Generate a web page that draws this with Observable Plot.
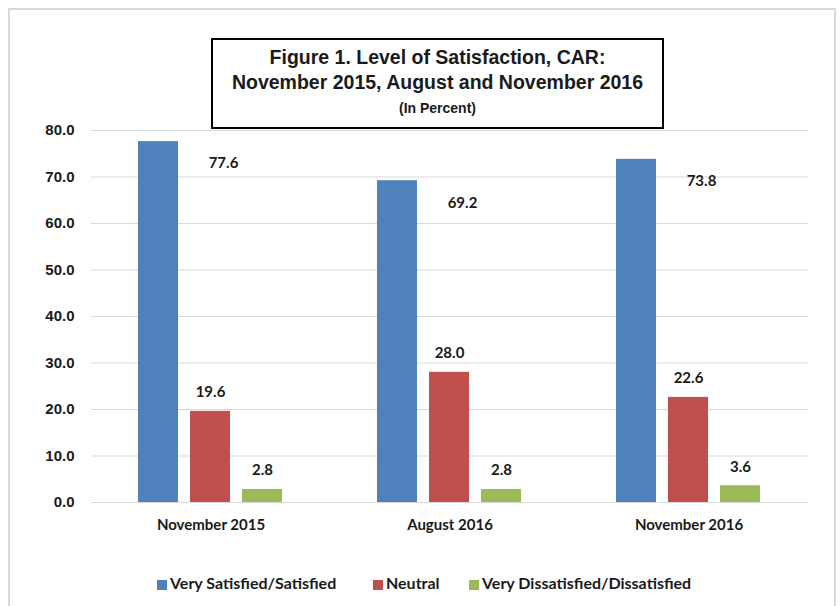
<!DOCTYPE html>
<html>
<head>
<meta charset="utf-8">
<script src="https://cdn.jsdelivr.net/npm/d3@7"></script>
<script src="https://cdn.jsdelivr.net/npm/@observablehq/plot@0.6"></script>
<style>
  html, body { margin: 0; padding: 0; background: #fff; }
  #wrap { position: relative; width: 840px; height: 606px; overflow: hidden; background: #fff; }
  #frame { position: absolute; left: 8px; top: 8px; width: 828px; height: 606px; border: 2px solid #d9d9d9; box-sizing: border-box; }
  #chart { position: absolute; left: 0; top: 0; }
  #titlebox { position: absolute; left: 211px; top: 38px; width: 453px; height: 91px; border: 2.5px solid #000; box-sizing: border-box; background: #fff; text-align: center; font-family: "Liberation Sans", Arial, sans-serif; font-weight: bold; color: #1a1a1a; }
  #titlebox .t { font-size: 19.5px; line-height: 25px; }
  #titlebox .t1 { margin-top: 4.5px; }
  #titlebox .s { font-size: 14px; line-height: 16px; margin-top: 5px; }
  #legend { position: absolute; left: 0; top: 573px; width: 840px; font-family: Lato, sans-serif; font-size: 16px; font-weight: bold; color: #1a1a1a; }
  .li { position: absolute; top: 0; white-space: nowrap; line-height: 20px; }
  .sw { display: inline-block; width: 10px; height: 10px; margin-right: 3px; vertical-align: -1px; }
</style>
</head>
<body>
<div id="wrap">
  <div id="frame"></div>
  <div id="chart"></div>
  <div id="titlebox">
    <div class="t t1">Figure 1. Level of Satisfaction, CAR:</div>
    <div class="t">November 2015, August and November 2016</div>
    <div class="s">(In Percent)</div>
  </div>
  <div id="legend"></div>
</div>
<script>
const periods = ["November 2015", "August 2016", "November 2016"];
const seriesNames = ["Very Satisfied/Satisfied", "Neutral", "Very Dissatisfied/Dissatisfied"];
const satisfied = [77.6, 69.2, 73.8];
const neutral = [19.6, 28.0, 22.6];
const dissatisfied = [2.8, 2.8, 3.6];
const yTicks = [0, 10, 20, 30, 40, 50, 60, 70, 80];
const colors = ["#4F81BD", "#C0504D", "#9BBB59"];

const seriesValues = [satisfied, neutral, dissatisfied];
const rows = [];
periods.forEach((p, i) => {
  seriesNames.forEach((s, j) => rows.push({period: p, series: s, value: seriesValues[j][i]}));
});
const topRows = rows.filter(d => d.series === seriesNames[0]);
const otherRows = rows.filter(d => d.series !== seriesNames[0]);

const plot = Plot.plot({
  width: 840,
  height: 540,
  marginLeft: 91,
  marginRight: 32,
  marginTop: 130,
  marginBottom: 38,
  style: {background: "transparent", overflow: "visible"},
  fx: {domain: periods, padding: 0, label: null},
  x: {domain: seriesNames, paddingInner: 0.226, paddingOuter: 0.87, axis: null},
  y: {domain: [0, 80], axis: null},
  color: {domain: seriesNames, range: colors},
  marks: [
    Plot.ruleY(yTicks, {stroke: "#d9d9d9", strokeWidth: 1.2}),
    Plot.axisY({ticks: yTicks, tickFormat: d => d.toFixed(1), tickSize: 0, tickPadding: 17, label: null,
      fontSize: 15, fontWeight: "bold", fontFamily: "Liberation Sans, Arial, sans-serif", fill: "#1a1a1a"}),
    Plot.axisFx({anchor: "bottom", tickSize: 0, tickPadding: 17, label: null, fontSize: 15, fontWeight: "bold",
      fontFamily: "Lato, sans-serif", fill: "#1a1a1a"}),
    Plot.barY(rows, {fx: "period", x: "series", y: "value", fill: "series"}),
    Plot.text(otherRows, {fx: "period", x: "series", y: "value", text: d => d.value.toFixed(1),
      dy: -19, fontSize: 15, fontWeight: "bold", fontFamily: "Lato, sans-serif", fill: "#1a1a1a"}),
    Plot.text(topRows, {fx: "period", x: "series", y: "value", text: d => d.value.toFixed(1),
      dx: 65, dy: 22, fontSize: 15, fontWeight: "bold", fontFamily: "Lato, sans-serif", fill: "#1a1a1a"})
  ]
});
document.getElementById("chart").appendChild(plot);

const legend = document.getElementById("legend");
const legendX = [157, 373, 469];
seriesNames.forEach((s, i) => {
  const item = document.createElement("div");
  item.className = "li";
  item.style.left = legendX[i] + "px";
  const sw = document.createElement("span");
  sw.className = "sw";
  sw.style.background = colors[i];
  item.appendChild(sw);
  item.appendChild(document.createTextNode(s));
  legend.appendChild(item);
});
</script>
</body>
</html>
